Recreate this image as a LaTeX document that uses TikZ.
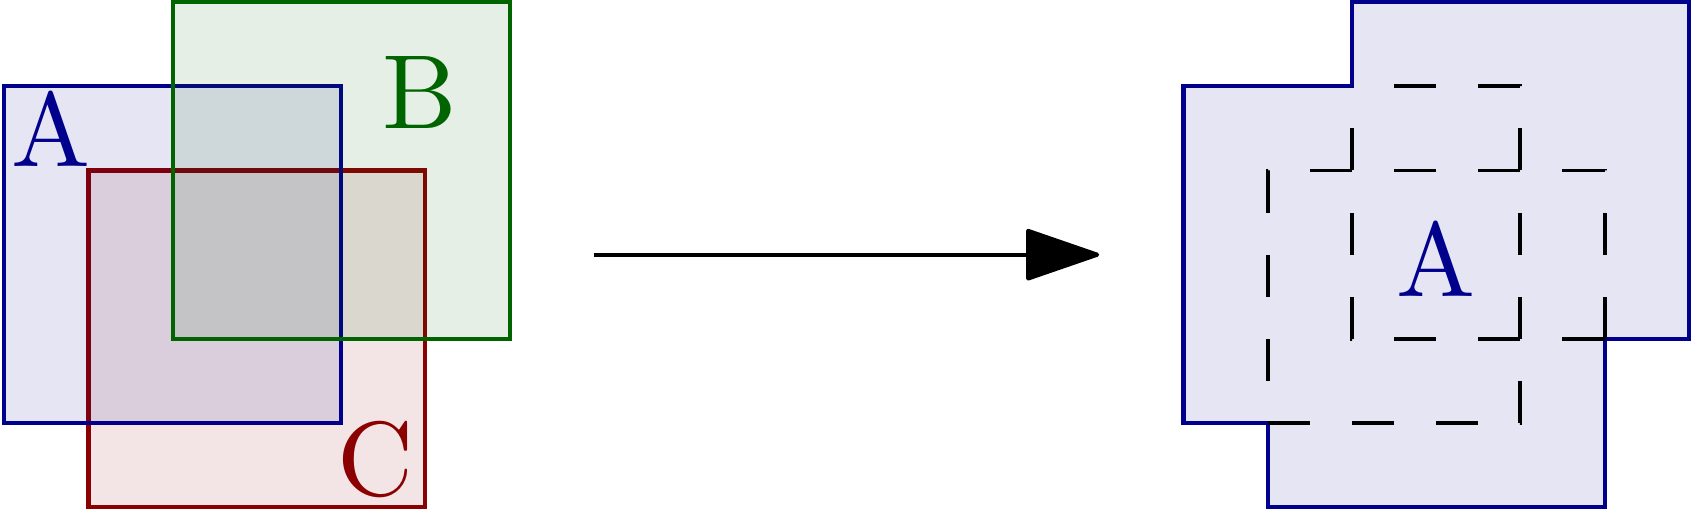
\documentclass[tikz,border=0pt]{standalone}
\usepackage{tikz}
\usetikzlibrary{arrows.meta, positioning}
\definecolor{setblue}{RGB}{0,0,140}
\definecolor{setgreen}{RGB}{0,100,0}
\definecolor{setred}{RGB}{139,0,0}
\tikzset{
	setbox/.style   = {line width=1.4pt, fill opacity=0.1},
	boxA/.style     = {setbox, draw=setblue, fill=setblue},
	boxB/.style     = {setbox, draw=setgreen, fill=setgreen},
	boxC/.style     = {setbox, draw=setred, fill=setred},
	letter/.style   = {inner sep=0pt, font=\normalsize, scale=3.56},
	inner/.style    = {draw=black, line width=1.3pt, dash pattern=on 0.5cm off 0.5cm},
	curve/.style    = {-{Triangle[length=0.92cm, width=0.62cm, round]}, line width=1.4pt},
}

\begin{document}
\begin{tikzpicture}
	\useasboundingbox (-0.05,-0.048) rectangle (20.05,6.024);
	% the three sets
	\draw[boxC] (1,0) rectangle (5,4);
	\draw[boxA] (0,1) rectangle (4,5);
	\draw[boxB] (2,2) rectangle (6,6);
	\node[letter, text=setblue] (labA) at (0.55,4.5) {A};
	\node[letter, text=setgreen] (labB) at (4.93,4.93) {B};
	\node[letter, text=setred] (labC) at (4.41,0.57) {C};
	
	\coordinate (src) at (7,3);
	\coordinate (dst) at (13,3);
	\draw[curve] (src) -- (dst);
	
	% their union
	\draw[boxA] (14,5) -- (16,5) -- (16,6) -- (20,6) -- (20,2) -- (19,2) -- (19,0) -- (15,0) -- (15,1) -- (14,1) -- cycle;
	\draw[inner] (15,1) -- (18,1) -- (18,5) -- (16,5);
	\draw[inner] (19,2) -- (16,2) -- (16,5);
	\draw[inner] (19,2) -- (19,4) -- (15,4) -- (15,1);
	\node[letter, text=setblue] (labU) at (17,2.95) {A};
\end{tikzpicture}
\end{document}
